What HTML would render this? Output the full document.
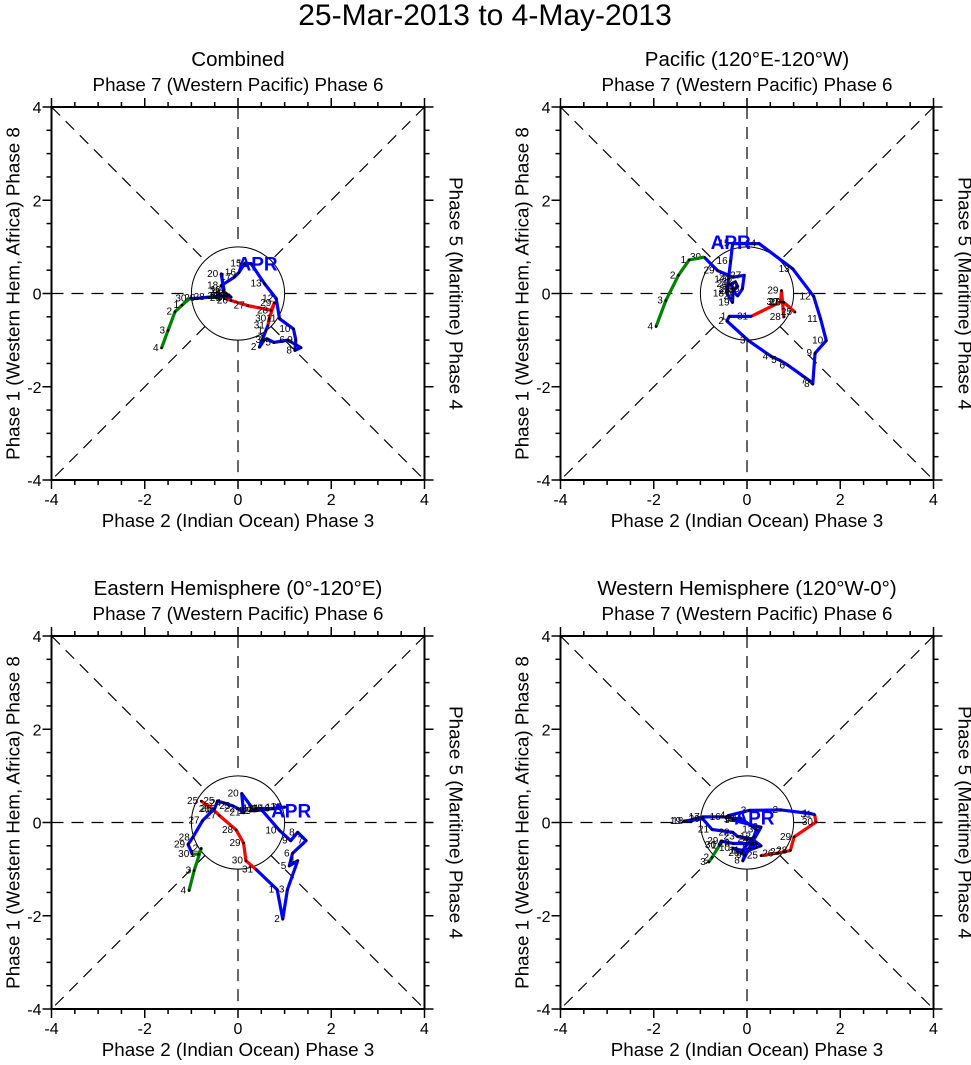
<!DOCTYPE html>
<html><head><meta charset="utf-8"><style>
body{margin:0;background:#fff;}
svg text{font-family:"Liberation Sans",Arial,sans-serif;}
</style></head><body>
<svg id="c" width="971" height="1060" viewBox="0 0 971 1060" xmlns="http://www.w3.org/2000/svg">
<text x="485" y="25" text-anchor="middle" font-size="30">25-Mar-2013 to 4-May-2013</text>
</svg>
<script>
// data arrays: [RMM1, RMM2] per day
const titles = ["Combined","Pacific (120°E-120°W)","Eastern Hemisphere (0°-120°E)","Western Hemisphere (120°W-0°)"];
const marchDays = [25,26,27,28,29,30,31];
const aprilDays = [1,2,3,4,5,6,7,8,9,10,11,12,13,14,15,16,17,18,19,20,21,22,23,24,25,26,27,28,29,30];
const mayDays = [1,2,3,4];
const march1 = [[-0.3,-0.1],[-0.15,-0.15],[0.21,-0.26],[0.71,-0.36],[0.78,-0.2],[0.67,-0.54],[0.64,-0.69]];
const april1 = [[0.6,-0.79],[0.46,-1.15],[0.56,-1.0],[0.62,-0.97],[0.77,-1.05],[1.07,-1.0],[1.35,-1.16],[1.22,-1.22],[1.24,-1.0],[1.19,-0.76],[0.89,-0.54],[0.82,-0.11],[0.57,0.21],[0.28,0.64],[0.14,0.64],[0.02,0.45],[-0.08,0.35],[-0.36,0.17],[-0.3,0.08],[-0.36,0.42],[-0.3,0.03],[-0.25,0.0],[-0.3,-0.05],[-0.2,-0.03],[-0.15,-0.08],[-0.25,-0.05],[-0.35,-0.05],[-0.65,-0.08],[-0.85,-0.1],[-1.04,-0.11]];
const may1 = [[-1.2,-0.25],[-1.35,-0.39],[-1.5,-0.79],[-1.64,-1.17]];
const march2 = [[1.03,-0.4],[0.79,-0.19],[0.76,-0.18],[0.79,-0.5],[0.74,0.06],[0.72,-0.18],[0.09,-0.49]];
const april2 = [[-0.38,-0.49],[-0.43,-0.59],[0.03,-1.01],[0.52,-1.35],[0.7,-1.43],[0.88,-1.54],[1.34,-1.87],[1.41,-1.94],[1.46,-1.28],[1.7,-1.01],[1.58,-0.55],[1.43,-0.06],[0.98,0.53],[0.26,1.07],[-0.31,1.07],[-0.35,0.7],[-0.4,0.3],[-0.43,0.0],[-0.31,-0.19],[-0.3,0.1],[-0.35,0.2],[-0.25,0.25],[-0.2,0.15],[-0.3,0.05],[-0.2,-0.05],[-0.1,0.1],[-0.06,0.39],[-0.3,0.35],[-0.63,0.49],[-0.92,0.78]];
const may2 = [[-1.24,0.72],[-1.47,0.39],[-1.74,-0.15],[-1.95,-0.71]];
const march3 = [[-0.79,0.46],[-0.54,0.29],[-0.4,0.15],[-0.04,-0.16],[0.12,-0.44],[0.17,-0.82],[0.39,-1.01]];
const april3 = [[0.84,-1.44],[0.96,-2.07],[1.06,-1.44],[1.28,-0.82],[1.1,-0.93],[1.17,-0.66],[1.46,-0.39],[1.28,-0.21],[1.13,-0.39],[0.89,-0.17],[0.49,0.29],[0.3,0.25],[0.4,0.3],[0.5,0.3],[0.6,0.3],[0.75,0.3],[0.89,0.32],[1.0,0.33],[0.35,0.25],[0.08,0.62],[0.12,0.21],[0.0,0.3],[-0.1,0.35],[-0.3,0.42],[-0.44,0.46],[-0.5,0.3],[-0.76,0.04],[-0.97,-0.32],[-1.07,-0.47],[-0.98,-0.68]];
const may3 = [[-0.85,-0.68],[-0.79,-0.56],[-0.94,-1.03],[-1.05,-1.46]];
const march4 = [[0.3,-0.71],[0.63,-0.66],[0.8,-0.63],[0.93,-0.6],[1.01,-0.31],[1.48,0.01],[1.45,0.17]];
const april4 = [[1.37,0.19],[0.73,0.27],[0.05,0.26],[-0.4,0.15],[-0.3,0.05],[0.3,-0.1],[0.1,-0.45],[-0.09,-0.82],[-0.05,-0.7],[-0.3,-0.55],[-0.1,-0.6],[0.15,-0.3],[0.2,-0.15],[-0.15,0.1],[-0.2,0.08],[-0.5,0.12],[-0.95,0.12],[-1.3,0.03],[-1.35,0.03],[-0.95,0.08],[-0.75,-0.15],[-0.31,-0.21],[-0.2,-0.3],[0.1,-0.35],[0.3,-0.5],[-0.1,-0.65],[0.2,-0.45],[-0.3,-0.45],[-0.55,-0.4],[-0.6,-0.48]];
const may4 = [[-0.59,-0.49],[-0.75,-0.75],[-0.82,-0.85]];
const aprLabel = [[0.42,0.64],[-0.35,1.1],[1.14,0.26],[0.16,0.11]];
const tickLabels = ["-4","-2","0","2","4"];
const tickVals = [-4,-2,0,2,4];

const NS="http://www.w3.org/2000/svg";
const svg=document.getElementById('c');
function mk(t,a,p){const e=document.createElementNS(NS,t);for(const k in a)e.setAttribute(k,a[k]);(p||svg).appendChild(e);return e;}
const panels=[{ox:51.5,oy:107,m:march1,a:april1,y:may1},{ox:560.5,oy:107,m:march2,a:april2,y:may2},{ox:51.5,oy:636,m:march3,a:april3,y:may3},{ox:560.5,oy:636,m:march4,a:april4,y:may4}];
const W=373, S=W/8;
panels.forEach((p,i)=>{
  const g=mk('g',{});
  
  
  const X=v=>p.ox+(v+4)*S, Y=v=>p.oy+(4-v)*S;
  const cx=X(0),cy=Y(0);
  let t=mk('text',{x:cx,y:p.oy-41,'text-anchor':'middle','font-size':20.5},g);t.textContent=titles[i];
  
  t=mk('text',{x:cx,y:p.oy-16,'text-anchor':'middle','font-size':18.8},g);t.textContent="Phase 7 (Western Pacific) Phase 6";
  
  t=mk('text',{x:cx,y:p.oy+W+47,'text-anchor':'middle','font-size':18.8},g);t.textContent="Phase 2 (Indian Ocean) Phase 3";
  
  t=mk('text',{x:0,y:0,'text-anchor':'middle','font-size':18.8,transform:`translate(${p.ox-32},${cy}) rotate(-90)`},g);t.textContent="Phase 1 (Western Hem, Africa) Phase 8";
  
  t=mk('text',{x:0,y:0,'text-anchor':'middle','font-size':18.8,transform:`translate(${p.ox+W+25},${cy}) rotate(90)`},g);t.textContent="Phase 5 (Maritime) Phase 4";
  
  const r=S, d=r/Math.SQRT2;
  const lines=[[X(-4),cy,cx-r,cy],[cx+r,cy,X(4),cy],[cx,Y(4),cx,cy-r],[cx,cy+r,cx,Y(-4)],
    [X(-4),Y(4),cx-d,cy-d],[cx+d,cy+d,X(4),Y(-4)],[X(4),Y(4),cx+d,cy-d],[cx-d,cy+d,X(-4),Y(-4)]];
  lines.forEach(l=>{const e=mk('line',{x1:l[0],y1:l[1],x2:l[2],y2:l[3],stroke:'#000','stroke-width':1.2,'stroke-dasharray':'12,8'},g);
    });
  const c=mk('circle',{cx:cx,cy:cy,r:r,fill:'none',stroke:'#000','stroke-width':1},g);
  
  const f=mk('rect',{x:p.ox,y:p.oy,width:W,height:W,fill:'none',stroke:'#000','stroke-width':2},g);
  
  for(let v=-4;v<=4.001;v+=0.5){
    const L=(Math.abs(v%2)<0.01)?9:5;
    const xx=X(v),yy=Y(v);
    [[xx,p.oy+W,xx,p.oy+W+L],[xx,p.oy,xx,p.oy-L],[p.ox,yy,p.ox-L,yy],[p.ox+W,yy,p.ox+W+L,yy]].forEach(q=>{
      const e=mk('line',{x1:q[0],y1:q[1],x2:q[2],y2:q[3],stroke:'#000','stroke-width':1.5},g);
      });
  }
  tickVals.forEach((v,k)=>{
    let e=mk('text',{x:X(v),y:p.oy+W+25,'text-anchor':'middle','font-size':16},g);e.textContent=tickLabels[k];
    
    e=mk('text',{x:p.ox-10,y:Y(v)+6,'text-anchor':'end','font-size':16},g);e.textContent=tickLabels[k];
    
  });
  function series(pts,days,col,name,prev){
    const all=prev?[prev].concat(pts):pts;
    const e=mk('polyline',{points:all.map(q=>X(q[0])+','+Y(q[1])).join(' '),fill:'none',stroke:col,'stroke-width':3.2,'stroke-linejoin':'round'},g);
    
    pts.forEach((q,k)=>{
      const dt=mk('circle',{cx:X(q[0]),cy:Y(q[1]),r:1.3,fill:'#000'},g);
      
      const tl=mk('text',{x:X(q[0])-3,y:Y(q[1])+3,'text-anchor':'end','font-size':10},g);tl.textContent=days[k];
      
    });
  }
  series(p.m,marchDays,'#ff0000','march-track');
  series(p.a,aprilDays,'#0000ff','april-track',p.m[p.m.length-1]);
  series(p.y,mayDays,'#008000','may-track',p.a[p.a.length-1]);
  const al=mk('text',{x:X(aprLabel[i][0]),y:Y(aprLabel[i][1])+7,'text-anchor':'middle','font-size':19,'font-weight':'bold',fill:'#0000ff'},g);
  al.textContent="APR";
});
</script>
</body></html>
